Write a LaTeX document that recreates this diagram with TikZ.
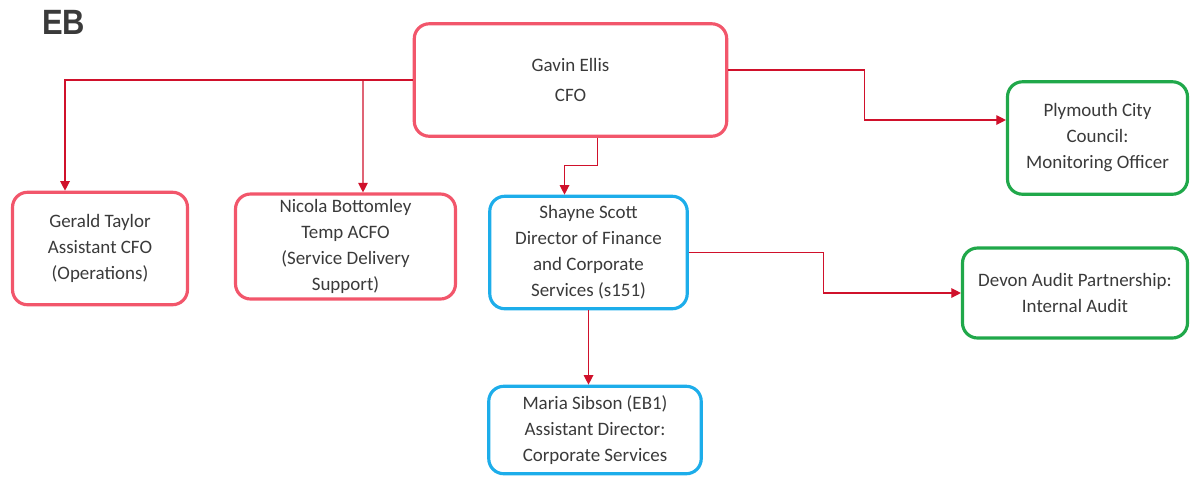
\documentclass[tikz,border=0pt]{standalone}
\usepackage{fontspec}
\setmainfont{Carlito}
\newfontfamily\headfont{Liberation Sans}
\usetikzlibrary{arrows.meta}
\definecolor{boxred}{HTML}{F2566B}
\definecolor{boxblue}{HTML}{1DADEA}
\definecolor{boxgreen}{HTML}{20A84A}
\definecolor{linkred}{HTML}{D0112B}
\definecolor{txt}{HTML}{3A3A3A}

\begin{document}
\begin{tikzpicture}[x=0.02cm,y=-0.02cm,
    role/.style={draw=#1,line width=1.8pt,rounded corners=0.3cm,align=center,
      text=txt,font=\fontsize{10.8}{14.8}\selectfont,inner sep=0pt},
    link/.style={draw=linkred,line width=0.7pt,-{Triangle[length=5.5pt,width=5.5pt]}}]
  \useasboundingbox (0,0) rectangle (1197,477);
  \node[anchor=base west,font=\headfont\bfseries\fontsize{20}{24}\selectfont,text=txt,inner xsep=0pt]
    (eb) at (42,34) {\scalebox{0.88}[1]{EB}};
  % top level
  \node[role=boxred,minimum width=6.25cm,minimum height=2.25cm] (cfo) at (570.5,80)
    {Gavin Ellis\\[2pt]CFO};
  % second row
  \node[role=boxred,minimum width=3.5cm,minimum height=2.25cm] (gerald) at (100,248.5)
    {Gerald Taylor\\Assistant CFO\\(Operations)};
  \node[role=boxred,minimum width=4.4cm,minimum height=2.1cm] (nicola) at (345.5,246.5)
    {Nicola Bottomley\\Temp ACFO\\(Service Delivery\\Support)};
  \node[role=boxblue,minimum width=3.95cm,minimum height=2.25cm] (shayne) at (588.5,252.5)
    {Shayne Scott\\Director of Finance\\and Corporate\\Services (s151)};
  \node[role=boxblue,minimum width=4.25cm,minimum height=1.75cm] (maria) at (595,430)
    {Maria Sibson (EB1)\\Assistant Director:\\Corporate Services};
  % external
  \node[role=boxgreen,minimum width=3.6cm,minimum height=2.25cm] (plymouth) at (1097.5,138)
    {Plymouth City\\Council:\\Monitoring Officer};
  \node[role=boxgreen,minimum width=4.5cm,minimum height=1.8cm] (devon) at (1075,293)
    {Devon Audit Partnership:\\Internal Audit};
  % reporting lines
  \draw[link] (cfo.west) -| ([xshift=-0.7cm]gerald.north);
  \draw[link] (cfo.west -| 363,0) -- ([xshift=0.35cm]nicola.north);
  \draw[link] ([xshift=0.54cm]cfo.south) -- ++(0,28) -| ([xshift=-0.48cm]shayne.north);
  \draw[link] ([yshift=0.2cm]cfo.east) -- ++(136,0) |- ([yshift=0.36cm]plymouth.west);
  \draw[link] (shayne.east) -- ++(135,0) |- (devon.west);
  \draw[link] (shayne.south) -- (shayne.south |- maria.north);
\end{tikzpicture}
\end{document}
